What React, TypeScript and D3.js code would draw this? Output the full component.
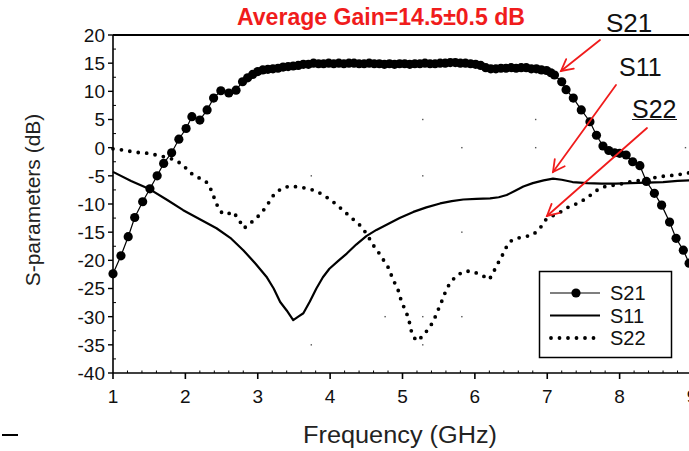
import React from "react";
import * as d3 from "d3";

// ---------- data ----------
const xTicks = [1, 2, 3, 4, 5, 6, 7, 8, 9];
const yTicks = [20, 15, 10, 5, 0, -5, -10, -15, -20, -25, -30, -35, -40];

const s21Freq = [1.0, 1.11, 1.21, 1.3, 1.41, 1.51, 1.61, 1.7, 1.81, 1.91, 2.01, 2.09, 2.2, 2.3, 2.39, 2.49, 2.6, 2.7, 2.79, 2.86, 2.93, 3.0, 3.07, 3.14, 3.21, 3.28, 3.35, 3.42, 3.49, 3.56, 3.63, 3.7, 3.77, 3.84, 3.91, 3.98, 4.05, 4.12, 4.19, 4.26, 4.33, 4.4, 4.47, 4.54, 4.61, 4.68, 4.75, 4.82, 4.89, 4.96, 5.03, 5.1, 5.17, 5.24, 5.31, 5.38, 5.45, 5.52, 5.59, 5.66, 5.73, 5.8, 5.87, 5.94, 6.01, 6.08, 6.15, 6.22, 6.29, 6.36, 6.43, 6.5, 6.57, 6.64, 6.71, 6.78, 6.85, 6.92, 6.99, 7.05, 7.1, 7.2, 7.26, 7.36, 7.47, 7.59, 7.68, 7.77, 7.85, 7.93, 8.0, 8.09, 8.18, 8.28, 8.37, 8.48, 8.58, 8.69, 8.78, 8.88, 8.96];
const s21Gain = [-22.4, -19.2, -15.8, -12.4, -9.6, -7.3, -5.0, -2.8, -0.9, 1.5, 3.4, 5.5, 4.9, 6.7, 8.8, 10.1, 9.7, 10.2, 11.7, 12.4, 13.0, 13.5, 13.8, 13.9, 14.0, 14.1, 14.3, 14.4, 14.5, 14.6, 14.8, 14.8, 15.0, 14.9, 14.9, 15.0, 14.9, 15.0, 14.9, 15.0, 15.0, 14.9, 14.9, 15.0, 14.9, 14.9, 14.8, 14.9, 14.8, 14.9, 14.9, 14.8, 14.9, 14.9, 15.0, 14.9, 14.9, 15.0, 15.0, 15.1, 15.1, 15.0, 15.0, 14.9, 14.8, 14.6, 14.2, 14.0, 14.0, 14.1, 14.1, 14.2, 14.1, 14.2, 14.2, 14.0, 14.0, 13.8, 13.7, 13.3, 12.9, 11.7, 10.3, 8.8, 6.7, 4.6, 2.2, 0.3, -0.5, -0.9, -1.0, -1.3, -2.5, -3.2, -6.0, -8.1, -10.2, -13.2, -16.1, -18.2, -20.5];

const s11Freq = [1.0, 1.25, 1.51, 1.75, 1.97, 2.2, 2.43, 2.62, 2.8, 2.97, 3.12, 3.22, 3.31, 3.4, 3.49, 3.56, 3.63, 3.72, 3.81, 3.9, 3.99, 4.12, 4.23, 4.36, 4.5, 4.64, 4.78, 4.96, 5.15, 5.33, 5.52, 5.68, 5.84, 6.02, 6.21, 6.33, 6.44, 6.55, 6.67, 6.8, 6.95, 7.08, 7.2, 7.35, 7.55, 7.75, 7.95, 8.15, 8.37, 8.6, 8.8, 9.0];
const s11Val = [-4.3, -5.9, -7.4, -9.3, -11.1, -12.7, -14.3, -16.0, -18.2, -20.6, -22.9, -25.0, -27.4, -28.9, -30.6, -30.0, -29.4, -27.3, -25.0, -23.0, -21.5, -20.0, -18.8, -17.2, -15.7, -14.6, -13.7, -12.5, -11.4, -10.6, -9.9, -9.5, -9.2, -9.1, -9.0, -8.8, -8.4, -7.7, -6.9, -6.3, -5.8, -5.5, -5.7, -6.1, -6.3, -6.4, -6.4, -6.3, -6.2, -6.1, -5.9, -5.8];

const s22Freq = [1.0, 1.13, 1.26, 1.37, 1.49, 1.63, 1.74, 1.86, 1.97, 2.06, 2.18, 2.3, 2.36, 2.43, 2.49, 2.56, 2.66, 2.73, 2.81, 2.89, 2.99, 3.08, 3.15, 3.22, 3.33, 3.45, 3.56, 3.68, 3.81, 3.93, 4.04, 4.16, 4.28, 4.4, 4.5, 4.59, 4.68, 4.8, 4.87, 4.94, 4.99, 5.05, 5.09, 5.13, 5.19, 5.28, 5.36, 5.43, 5.47, 5.52, 5.59, 5.64, 5.73, 5.84, 5.95, 6.09, 6.2, 6.26, 6.32, 6.37, 6.41, 6.48, 6.57, 6.69, 6.8, 6.9, 6.98, 7.09, 7.2, 7.31, 7.44, 7.57, 7.68, 7.8, 7.9, 8.0, 8.14, 8.28, 8.42, 8.53, 8.65, 8.76, 8.89, 9.0];
const s22Val = [-0.2, -0.4, -0.7, -0.9, -1.0, -1.4, -1.7, -2.2, -3.1, -4.4, -5.3, -6.2, -7.6, -10.0, -11.4, -11.9, -11.4, -12.6, -14.3, -13.5, -12.4, -11.1, -9.8, -8.4, -7.2, -6.8, -7.0, -7.2, -7.7, -8.6, -9.6, -10.9, -12.3, -13.6, -15.2, -17.2, -18.8, -21.2, -23.4, -25.3, -27.5, -29.1, -30.7, -33.0, -34.3, -33.5, -32.1, -30.8, -29.4, -28.0, -25.7, -24.4, -22.9, -22.0, -21.9, -22.6, -23.4, -22.0, -20.5, -19.4, -18.2, -16.7, -16.1, -15.8, -15.5, -14.3, -12.8, -12.0, -11.3, -10.4, -9.8, -8.7, -7.6, -6.9, -6.7, -6.5, -6.1, -5.8, -5.5, -5.2, -5.0, -4.9, -4.6, -4.4];

const gridDots: [number, number][] = [[3.74, -5], [3.74, -35], [5.28, 5], [5.82, 0], [6.84, 0], [5.28, -5], [5.82, -15], [4.76, -30], [5.28, -30], [5.82, -30], [5.28, -35], [6.84, 5], [8.91, 0]];

const titleText = "Average Gain=14.5±0.5 dB";
const legendNames = ["S21", "S11", "S22"];

// ---------- layout ----------
const W = 689, H = 451;
const x = d3.scaleLinear().domain([1, 9]).range([113, 692]);
const y = d3.scaleLinear().domain([-40, 20]).range([373, 35]);
const FONT = "Arial, 'Liberation Sans', Helvetica, sans-serif";
const RED = "#f01c1c";

function zip(a: number[], b: number[]): [number, number][] {
  return a.map((v, i) => [v, b[i]]);
}

const line = d3.line<[number, number]>().x(d => x(d[0])).y(d => y(d[1]));

function Arrow({ x1, y1, x2, y2 }: { x1: number; y1: number; x2: number; y2: number }) {
  const ang = Math.atan2(y2 - y1, x2 - x1);
  const L = 13, a = (28 * Math.PI) / 180;
  const p1 = [x2 - L * Math.cos(ang - a), y2 - L * Math.sin(ang - a)];
  const p2 = [x2 - L * Math.cos(ang + a), y2 - L * Math.sin(ang + a)];
  return (
    <g stroke={RED} strokeWidth={1.8} fill="none" strokeLinecap="round">
      <line x1={x1} y1={y1} x2={x2} y2={y2} />
      <polyline points={`${p1[0]},${p1[1]} ${x2},${y2} ${p2[0]},${p2[1]}`} />
    </g>
  );
}

export default function App() {
  const s21 = zip(s21Freq, s21Gain);
  const s11 = zip(s11Freq, s11Val);
  const s22 = zip(s22Freq, s22Val);

  const minorY = d3.range(-40, 20.01, 2.5).filter(v => v % 5 !== 0);
  const minorX = d3.range(1, 9.01, 0.2).filter(v => Math.abs(v - Math.round(v)) > 0.01);

  const left = x(1), bottom = y(-40), top = y(20);

  return (
    <div style={{ position: "absolute", left: 0, top: 0 }}>
      <svg width={W} height={H} style={{ display: "block", background: "#fff" }} fontFamily={FONT}>
        <rect width={W} height={H} fill="#fff" />

        {/* grid dots */}
        {gridDots.map((d, i) => (
          <rect key={i} x={x(d[0]) - 0.7} y={y(d[1]) - 0.7} width={1.4} height={1.4} fill="#555" />
        ))}

        {/* frame */}
        <line x1={left} y1={top} x2={W} y2={top} stroke="#000" strokeWidth={2} />
        <line x1={left} y1={top} x2={left} y2={bottom} stroke="#000" strokeWidth={1.6} />
        <line x1={left} y1={bottom} x2={W} y2={bottom} stroke="#000" strokeWidth={1.6} />

        {/* y ticks */}
        {yTicks.map(v => (
          <g key={v}>
            <line x1={left - 5} x2={left} y1={y(v)} y2={y(v)} stroke="#000" strokeWidth={1.4} />
            <text x={left - 8} y={y(v)} dy="0.36em" textAnchor="end" fontSize={19} fill="#111">{v}</text>
          </g>
        ))}
        {minorY.map(v => (
          <line key={v} x1={left} x2={left + 3} y1={y(v)} y2={y(v)} stroke="#000" strokeWidth={1} />
        ))}

        {/* x ticks */}
        {xTicks.map(v => (
          <g key={v}>
            <line x1={x(v)} x2={x(v)} y1={bottom} y2={bottom + 6} stroke="#000" strokeWidth={1.6} />
            <text x={x(v)} y={403} textAnchor="middle" fontSize={19} fill="#111">{v}</text>
          </g>
        ))}
        {minorX.map(v => (
          <line key={v} x1={x(v)} x2={x(v)} y1={bottom} y2={bottom - 2.5} stroke="#000" strokeWidth={1} />
        ))}

        {/* axis titles */}
        <text transform="translate(40,200) rotate(-90)" textAnchor="middle" fontSize={21} fill="#222">S-parameters (dB)</text>
        <text x={400} y={443} textAnchor="middle" fontSize={23} textLength={194} lengthAdjust="spacingAndGlyphs" fill="#222">Frequency (GHz)</text>

        {/* S11 */}
        <path d={line(s11) || ""} fill="none" stroke="#000" strokeWidth={2.2} strokeLinejoin="round" />
        {/* S22 dotted */}
        <path d={line(s22) || ""} fill="none" stroke="#000" strokeWidth={3.8} strokeDasharray="0 8.5" strokeLinecap="round" />
        {/* S21 */}
        <path d={line(s21) || ""} fill="none" stroke="#000" strokeWidth={1.2} />
        {s21.map((d, i) => (
          <circle key={i} cx={x(d[0])} cy={y(d[1])} r={4.6} fill="#000" />
        ))}

        {/* legend */}
        <rect x={539.5} y={271.5} width={132} height={86} fill="#fff" stroke="#000" strokeWidth={1.5} />
        {legendNames.map((n, i) => {
          const ly = 293 + i * 22.5;
          return (
            <g key={n}>
              {i === 0 && (
                <g>
                  <line x1={550} x2={600} y1={ly} y2={ly} stroke="#000" strokeWidth={1.2} />
                  <circle cx={576} cy={ly} r={4.6} fill="#000" />
                </g>
              )}
              {i === 1 && <line x1={550} x2={600} y1={ly} y2={ly} stroke="#000" strokeWidth={2.2} />}
              {i === 2 && (
                <line x1={551} x2={600} y1={ly} y2={ly} stroke="#000" strokeWidth={3.8} strokeDasharray="0 8.5" strokeLinecap="round" />
              )}
              <text x={610} y={ly} dy="0.36em" fontSize={20} fill="#111">{n}</text>
            </g>
          );
        })}

        {/* title */}
        <text x={237} y={25} fontSize={23} fontWeight="bold" fill={RED} textLength={288} lengthAdjust="spacingAndGlyphs">{titleText}</text>

        {/* annotations */}
        <text x={606} y={32} fontSize={26} fill="#111">S21</text>
        <text x={619} y={76} fontSize={25} fill="#111">S11</text>
        <text x={632} y={118} fontSize={25} fill="#111">S22</text>
        <line x1={632} x2={677} y1={119.5} y2={119.5} stroke="#111" strokeWidth={1.2} />

        <Arrow x1={600} y1={40} x2={561} y2={71} />
        <Arrow x1={616} y1={85} x2={553} y2={172} />
        <Arrow x1={647} y1={128} x2={547} y2={216} />

        {/* small mark bottom-left */}
        <line x1={2} x2={18} y1={435} y2={435} stroke="#000" strokeWidth={2} />
      </svg>
    </div>
  );
}
